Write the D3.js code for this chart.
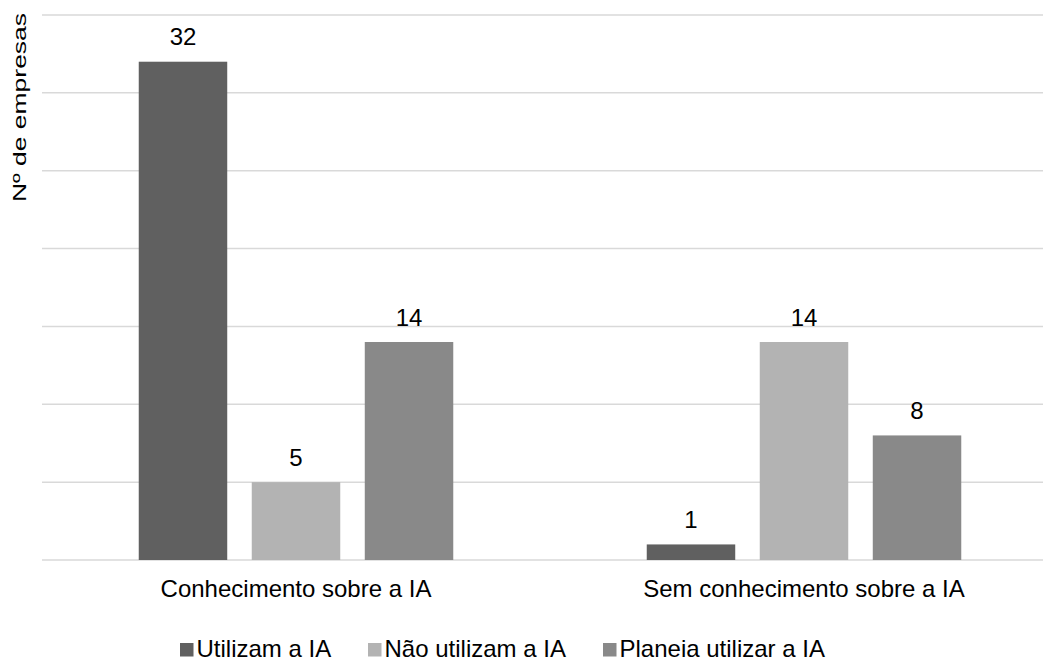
<!DOCTYPE html>
<html>
<head>
<meta charset="utf-8">
<script src="https://cdn.jsdelivr.net/npm/d3@7"></script>
<style>
  html, body { margin: 0; padding: 0; background: #fff; }
  svg { display: block; font-family: "Liberation Sans", Arial, sans-serif; }
</style>
</head>
<body>
<svg id="chart" width="1043" height="661"></svg>
<script>
// Número de empresas por grupo e situação de uso da IA
const categories = ["Conhecimento sobre a IA", "Sem conhecimento sobre a IA"];
const seriesNames = ["Utilizam a IA", "Não utilizam a IA", "Planeia utilizar a IA"];
const utilizam = [32, 1];
const naoUtilizam = [5, 14];
const planeia = [14, 8];
const yTicks = [0, 5, 10, 15, 20, 25, 30, 35];
const colors = ["#606060", "#b3b3b3", "#898989"];

const seriesValues = [utilizam, naoUtilizam, planeia];
const rows = categories.map((c, i) => ({
  category: c,
  values: seriesNames.map((s, j) => ({ series: s, value: seriesValues[j][i] }))
}));

const svg = d3.select("#chart");
const plot = { left: 42, right: 1058, top: 15, bottom: 560 };
const fontSize = 24;

const x0 = d3.scaleBand().domain(categories).range([plot.left, plot.right]).padding(0);
const x1 = d3.scaleBand().domain(seriesNames).range([0, x0.bandwidth()])
  .paddingInner(0.217).paddingOuter(0.856);
const y = d3.scaleLinear().domain([0, 35]).range([plot.bottom, plot.top]);
const color = d3.scaleOrdinal().domain(seriesNames).range(colors);

// horizontal gridlines
svg.append("g")
  .selectAll("line")
  .data(yTicks)
  .join("line")
  .attr("x1", plot.left)
  .attr("x2", plot.right)
  .attr("y1", d => y(d))
  .attr("y2", d => y(d))
  .attr("stroke", "#d9d9d9")
  .attr("stroke-width", 1.5);

// bars
const groups = svg.append("g")
  .selectAll("g")
  .data(rows)
  .join("g")
  .attr("transform", d => `translate(${x0(d.category)},0)`);

groups.selectAll("rect")
  .data(d => d.values)
  .join("rect")
  .attr("x", d => x1(d.series))
  .attr("width", x1.bandwidth())
  .attr("y", d => y(d.value))
  .attr("height", d => y(0) - y(d.value))
  .attr("fill", d => color(d.series));

// value labels
groups.selectAll("text")
  .data(d => d.values)
  .join("text")
  .attr("x", d => x1(d.series) + x1.bandwidth() / 2)
  .attr("y", d => y(d.value) - 16.5)
  .attr("text-anchor", "middle")
  .attr("font-size", fontSize)
  .attr("fill", "#000")
  .text(d => d.value);

// category axis labels
svg.append("g")
  .selectAll("text")
  .data(categories)
  .join("text")
  .attr("x", d => x0(d) + x0.bandwidth() / 2)
  .attr("y", 597)
  .attr("text-anchor", "middle")
  .attr("font-size", fontSize)
  .attr("fill", "#000")
  .text(d => d);

// y axis title
svg.append("text")
  .attr("transform", "translate(26,107.5) rotate(-90)")
  .attr("text-anchor", "middle")
  .attr("font-size", 18.5)
  .attr("textLength", 189)
  .attr("lengthAdjust", "spacingAndGlyphs")
  .attr("fill", "#000")
  .text("Nº de empresas");

// legend
const legendX = [180, 368, 603];
const legend = svg.append("g")
  .selectAll("g")
  .data(seriesNames)
  .join("g")
  .attr("transform", (d, i) => `translate(${legendX[i]},643)`);

legend.append("rect")
  .attr("width", 13.5)
  .attr("height", 13.5)
  .attr("fill", d => color(d));

legend.append("text")
  .attr("x", 16.5)
  .attr("y", 13.5)
  .attr("font-size", fontSize)
  .attr("fill", "#000")
  .text(d => d);
</script>
</body>
</html>
